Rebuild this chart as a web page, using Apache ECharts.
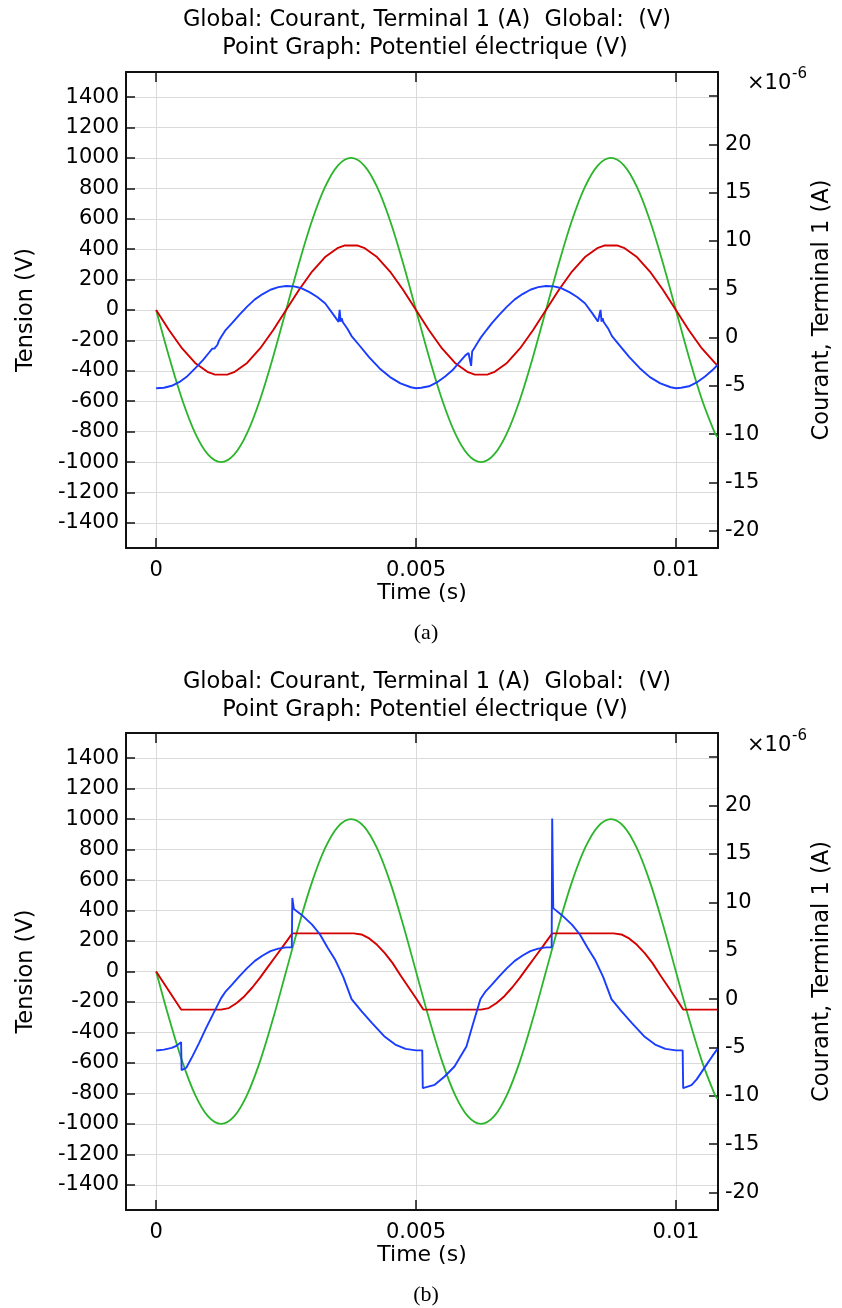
<!DOCTYPE html>
<html><head><meta charset="utf-8">
<script src="https://cdn.jsdelivr.net/npm/echarts@6/dist/echarts.min.js"></script>
<style>html,body{margin:0;padding:0;background:#fff}#c{width:842px;height:1308px}</style>
</head><body><div id="c"></div>
<script>
// ---- data (time in s, voltage in V, current in 1e-6 A) ----
const time = [0,0.00025,0.0005,0.00075,0.001,0.00125,0.0015,0.00175,0.002,0.00225,0.0025,0.00275,0.003,0.00325,0.0035,0.00375,0.004,0.00425,0.0045,0.00475,0.005,0.00525,0.0055,0.00575,0.006,0.00625,0.0065,0.00675,0.007,0.00725,0.0075,0.00775,0.008,0.00825,0.0085,0.00875,0.009,0.00925,0.0095,0.00975,0.01,0.01025,0.0105,0.01075,0.0108];
const sourceV = [0,-309,-588,-809,-951,-1000,-951,-809,-588,-309,0,309,588,809,951,1000,951,809,588,309,0,-309,-588,-809,-951,-1000,-951,-809,-588,-309,0,309,588,809,951,1000,951,809,588,309,0,-309,-588,-809,-835];

const potentialA = [[0,0],[0.00025,-133],[0.0005,-253],[0.00075,-348],[0.001,-409],[0.00112,-424],[0.00125,-425],[0.00138,-424],[0.0015,-409],[0.00175,-348],[0.002,-253],[0.00225,-133],[0.0025,0],[0.00275,133],[0.003,253],[0.00325,348],[0.0035,409],[0.00362,424],[0.00375,425],[0.00388,424],[0.004,409],[0.00425,348],[0.0045,253],[0.00475,133],[0.005,0],[0.00525,-133],[0.0055,-253],[0.00575,-348],[0.006,-409],[0.00612,-424],[0.00625,-425],[0.00638,-424],[0.0065,-409],[0.00675,-348],[0.007,-253],[0.00725,-133],[0.0075,0],[0.00775,133],[0.008,253],[0.00825,348],[0.0085,409],[0.00862,424],[0.00875,425],[0.00888,424],[0.009,409],[0.00925,348],[0.0095,253],[0.00975,133],[0.01,0],[0.01025,-133],[0.0105,-253],[0.01075,-348],[0.0108,-365]];

const currentA = [[0,-5.25],[0.00015,-5.2],[0.0003,-5.0],[0.00045,-4.6],[0.0006,-4.0],[0.00075,-3.2],[0.0009,-2.35],[0.00102,-1.55],[0.00108,-1.15],[0.0011,-1.3],[0.00112,-1.15],[0.00114,-1.25],[0.00118,-0.75],[0.00121,-0.3],[0.00125,0.05],[0.00134,0.8],[0.00146,1.5],[0.0016,2.35],[0.00175,3.2],[0.0019,3.95],[0.00205,4.5],[0.0022,4.95],[0.00235,5.22],[0.0025,5.34],[0.00265,5.3],[0.0028,5.1],[0.00295,4.7],[0.0031,4.2],[0.00325,3.55],[0.0034,2.45],[0.00351,1.62],[0.00353,2.86],[0.00355,1.65],[0.00357,2.0],[0.00359,1.6],[0.00368,0.9],[0.00376,0.15],[0.0039,-0.75],[0.0041,-2.05],[0.0043,-3.2],[0.0045,-4.1],[0.0047,-4.75],[0.0049,-5.15],[0.005,-5.25],
[0.0051,-5.2],[0.00525,-5.05],[0.0054,-4.65],[0.00556,-4.03],[0.0057,-3.4],[0.00582,-2.65],[0.00595,-1.85],[0.00601,-1.61],[0.00604,-1.45],[0.00606,-2.93],[0.00608,-1.45],[0.00614,-0.93],[0.0062,-0.4],[0.00626,0.1],[0.00636,0.8],[0.00646,1.49],[0.0066,2.35],[0.00675,3.2],[0.0069,3.95],[0.00705,4.5],[0.0072,4.95],[0.00735,5.22],[0.0075,5.34],[0.00765,5.3],[0.0078,5.1],[0.00795,4.7],[0.0081,4.2],[0.00825,3.55],[0.0084,2.45],[0.0085,1.65],[0.00855,2.86],[0.00857,1.65],[0.00859,2.0],[0.00861,1.6],[0.0087,0.9],[0.00877,0.15],[0.0089,-0.7],[0.0091,-2.0],[0.0093,-3.15],[0.0095,-4.1],[0.0097,-4.75],[0.0099,-5.15],[0.01,-5.25],[0.0101,-5.2],[0.01025,-5.05],[0.0104,-4.65],[0.01056,-4.03],[0.0107,-3.4],[0.0108,-2.85]];

const potentialB = [[0,0],[0.00048,-250],[0.00125,-250],[0.0014,-240],[0.00155,-207],[0.0017,-162],[0.00185,-105],[0.002,-40],[0.00215,30],[0.0023,100],[0.00245,170],[0.00262,250],[0.0038,250],[0.00395,243],[0.0041,217],[0.00425,175],[0.0044,120],[0.00455,55],[0.0047,-25],[0.00485,-100],[0.005,-175],[0.00514,-250],[0.00625,-250],[0.0064,-240],[0.00655,-207],[0.0067,-162],[0.00685,-105],[0.007,-40],[0.00715,30],[0.0073,100],[0.00745,170],[0.00762,250],[0.0088,250],[0.00895,243],[0.0091,217],[0.00925,175],[0.0094,120],[0.00955,55],[0.0097,-25],[0.00985,-100],[0.01,-175],[0.01014,-250],[0.0108,-250]];

const currentB = [[0,-5.32],[0.00015,-5.22],[0.0003,-5.05],[0.0004,-4.8],[0.00048,-4.45],[0.00049,-7.35],[0.00058,-7.1],[0.0007,-5.9],[0.00083,-4.5],[0.00096,-3.0],[0.00109,-1.6],[0.00125,0.1],[0.00134,0.8],[0.00146,1.5],[0.0016,2.35],[0.00175,3.2],[0.0019,3.95],[0.00205,4.5],[0.0022,4.95],[0.00235,5.22],[0.0025,5.34],[0.00261,5.34],[0.00262,10.45],[0.00265,9.3],[0.0028,8.7],[0.003,7.7],[0.00315,6.7],[0.0033,5.3],[0.00345,4.0],[0.0036,2.3],[0.00376,0.0],[0.00395,-1.25],[0.00415,-2.45],[0.0044,-3.9],[0.0046,-4.7],[0.0048,-5.15],[0.005,-5.3],[0.00512,-5.3],[0.00513,-9.21],[0.00536,-8.86],[0.00555,-8.0],[0.00574,-6.97],[0.00597,-4.9],[0.0061,-2.5],[0.00624,0.0],[0.00634,0.8],[0.00646,1.5],[0.0066,2.35],[0.00675,3.2],[0.0069,3.95],[0.00705,4.5],[0.0072,4.95],[0.00735,5.22],[0.0075,5.34],[0.00761,5.34],[0.00762,18.65],[0.00764,9.4],[0.0078,8.7],[0.008,7.7],[0.00815,6.7],[0.0083,5.3],[0.00845,4.0],[0.0086,2.3],[0.00876,0.0],[0.00895,-1.25],[0.00915,-2.45],[0.0094,-3.9],[0.0096,-4.7],[0.0098,-5.15],[0.01,-5.3],[0.01013,-5.3],[0.01014,-9.21],[0.0103,-8.9],[0.0104,-8.3],[0.0105,-7.5],[0.0106,-6.7],[0.0107,-5.9],[0.0108,-5.15]];

const xTicks = [0, 0.005, 0.01];
const vTicks = [-1400,-1200,-1000,-800,-600,-400,-200,0,200,400,600,800,1000,1200,1400];
const iTicks = [-20,-15,-10,-5,0,5,10,15,20,25];
const iLabels = [-20,-15,-10,-5,0,5,10,15,20];
const titleLines = ['Global: Courant, Terminal 1 (A)  Global:  (V)', 'Point Graph: Potentiel électrique (V)'];
const panelLabels = ['(a)', '(b)'];
const xName = 'Time (s)', vName = 'Tension (V)', iName = 'Courant, Terminal 1 (A)';

// ---- layout ----
const FONT = 'DejaVu Sans';
const AX = '#111';
const GRIDC = '#dadada';
const panels = [{top: 72, height: 476}, {top: 733, height: 477}];
const xMin = -0.00058, xMax = 0.01081;
const plain = v => String(v);

const chart = echarts.init(document.getElementById('c'), null, {renderer: 'canvas'});
const grid = [], xAxis = [], yAxis = [], series = [], graphic = [];

panels.forEach((p, k) => {
  grid.push({left: 126, top: p.top, width: 594, height: p.height, show: false, containLabel: false});
  xAxis.push({
    type: 'value', gridIndex: k, position: 'bottom', min: xMin, max: xMax,
    name: xName, nameLocation: 'middle', nameGap: 30,
    nameTextStyle: {fontFamily: FONT, fontSize: 22, color: '#000'},
    axisLine: {show: true, onZero: false, lineStyle: {color: AX, width: 2}},
    axisTick: {show: true, inside: true, length: 10, customValues: xTicks, lineStyle: {color: AX, width: 1.5}},
    axisLabel: {show: true, customValues: xTicks, margin: 12, fontFamily: FONT, fontSize: 21, color: '#000', formatter: plain},
    splitLine: {show: true, lineStyle: {color: GRIDC, width: 1}}
  });
  xAxis.push({
    type: 'value', gridIndex: k, position: 'top', min: xMin, max: xMax,
    axisLine: {show: true, onZero: false, lineStyle: {color: AX, width: 2}},
    axisTick: {show: true, inside: true, length: 10, customValues: xTicks, lineStyle: {color: AX, width: 1.5}},
    axisLabel: {show: false}, splitLine: {show: false}
  });
  yAxis.push({
    type: 'value', gridIndex: k, position: 'left', min: -1565, max: 1565,
    name: vName, nameLocation: 'middle', nameGap: 88,
    nameTextStyle: {fontFamily: FONT, fontSize: 22.5, color: '#000'},
    axisLine: {show: true, onZero: false, lineStyle: {color: AX, width: 2}},
    axisTick: {show: true, inside: true, length: 9, customValues: vTicks, lineStyle: {color: AX, width: 1.5}},
    axisLabel: {show: true, customValues: vTicks, margin: 7, fontFamily: FONT, fontSize: 21, color: '#000', formatter: plain},
    splitLine: {show: true, lineStyle: {color: GRIDC, width: 1}}
  });
  yAxis.push({
    type: 'value', gridIndex: k, position: 'right', min: -21.8, max: 27.5,
    name: iName, nameLocation: 'middle', nameGap: 93,
    nameTextStyle: {fontFamily: FONT, fontSize: 22.5, color: '#000'},
    axisLine: {show: true, onZero: false, lineStyle: {color: AX, width: 2}},
    axisTick: {show: true, inside: true, length: 9, customValues: iTicks, lineStyle: {color: AX, width: 1.5}},
    axisLabel: {show: true, customValues: iLabels, margin: 7, fontFamily: FONT, fontSize: 21, color: '#000', formatter: plain},
    splitLine: {show: false}
  });

  const pot = k === 0 ? potentialA : potentialB;
  const cur = k === 0 ? currentA : currentB;
  series.push({type: 'line', xAxisIndex: 2*k, yAxisIndex: 2*k, data: time.map((t, i) => [t, sourceV[i]]),
    symbol: 'none', smooth: 0.35, lineStyle: {color: '#2ab52a', width: 1.8}, z: 2});
  series.push({type: 'line', xAxisIndex: 2*k, yAxisIndex: 2*k, data: pot,
    symbol: 'none', lineStyle: {color: '#d40000', width: 1.9}, z: 3});
  series.push({type: 'line', xAxisIndex: 2*k, yAxisIndex: 2*k+1, data: cur,
    symbol: 'none', lineStyle: {color: '#1a3cff', width: 1.9}, z: 4});

  const off = k === 0 ? 0 : 662;
  graphic.push({type: 'text', x: 427, y: 20 + off, style: {text: titleLines[0], textAlign: 'center', textVerticalAlign: 'middle', font: '22.5px "DejaVu Sans"', fill: '#000'}});
  graphic.push({type: 'text', x: 425, y: 48 + off, style: {text: titleLines[1], textAlign: 'center', textVerticalAlign: 'middle', font: '22.5px "DejaVu Sans"', fill: '#000'}});
  graphic.push({type: 'text', x: 747, y: 84 + off, style: {text: '×10', textAlign: 'left', textVerticalAlign: 'middle', font: '21px "DejaVu Sans"', fill: '#000'}});
  graphic.push({type: 'text', x: 792, y: 74 + off, style: {text: '-6', textAlign: 'left', textVerticalAlign: 'middle', font: '15px "DejaVu Sans"', fill: '#000'}});
  graphic.push({type: 'text', x: 426, y: (k === 0 ? 633 : 1295), style: {text: panelLabels[k], textAlign: 'center', textVerticalAlign: 'middle', font: '22px "Liberation Serif"', fill: '#000'}});
});

chart.setOption({animation: false, backgroundColor: '#fff', grid, xAxis, yAxis, series, graphic});
</script></body></html>
